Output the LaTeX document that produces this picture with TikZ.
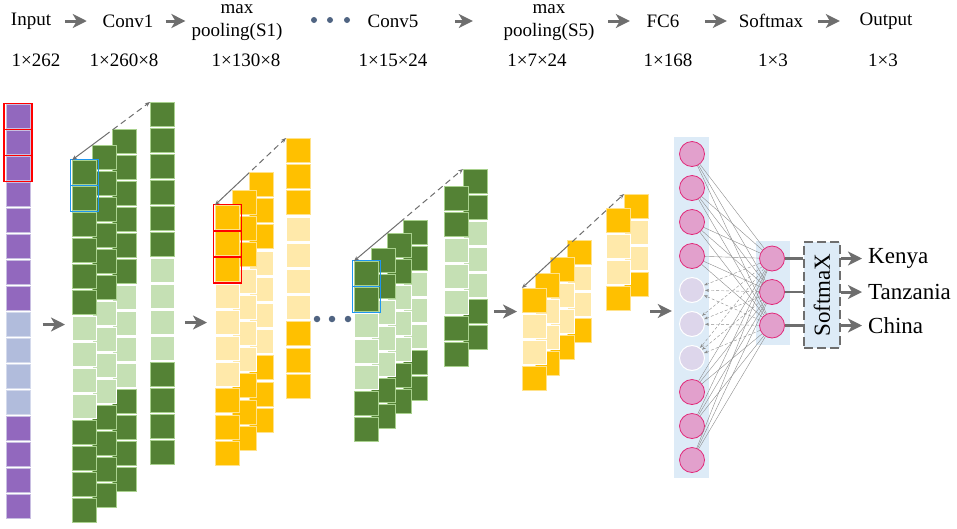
\documentclass[tikz,border=0pt]{standalone}
\usepackage{fontspec}
\usepackage{graphicx}
\setmainfont{Liberation Serif}
\usepackage{tikz}
\usetikzlibrary{arrows.meta, calc}

\definecolor{purp}{RGB}{146,104,190}
\definecolor{purpB}{RGB}{200,190,225}
\definecolor{slate}{RGB}{177,188,220}
\definecolor{slateB}{RGB}{212,218,236}
\definecolor{grD}{RGB}{84,130,53}
\definecolor{grB}{RGB}{169,209,142}
\definecolor{grL}{RGB}{197,224,180}
\definecolor{ylD}{RGB}{255,192,0}
\definecolor{ylB}{RGB}{255,226,140}
\definecolor{ylL}{RGB}{255,233,170}
\definecolor{fcbg}{RGB}{221,235,247}
\definecolor{pink}{RGB}{226,160,204}
\definecolor{pinkB}{RGB}{225,40,120}
\definecolor{drop}{RGB}{221,214,235}
\definecolor{dotc}{RGB}{80,100,130}
\definecolor{arr}{RGB}{110,110,110}
\definecolor{hlblue}{RGB}{30,150,240}

\tikzset{
	cell/.style={rectangle, minimum width=24pt, minimum height=24pt, inner sep=0pt,
		anchor=north west, line width=1pt},
	pd/.style={cell, fill=purp, draw=purpB},
	pl/.style={cell, fill=slate, draw=slateB},
	gd/.style={cell, fill=grD, draw=grB},
	gl/.style={cell, fill=grL, draw=white},
	yd/.style={cell, fill=ylD, draw=ylB},
	yl/.style={cell, fill=ylL, draw=white},
	redbox/.style={rectangle, draw=red, line width=1.8pt, inner sep=0pt,
		minimum width=28pt, minimum height=26pt},
	bluebox/.style={redbox, draw=hlblue},
	hd/.style={font=\fontsize{19}{23}\selectfont, inner sep=2pt, align=center},
	lbl/.style={font=\fontsize{23}{26}\selectfont, inner sep=2pt},
	hdot/.style={circle, fill=dotc, minimum size=6pt, inner sep=0pt},
	harrow/.style={arr, line width=3pt, -{Stealth[length=14pt, width=14pt, inset=4pt]}},
	barrow/.style={harrow},
	dline/.style={arr, line width=1pt},
	neuron/.style={circle, minimum size=25pt, inner sep=0pt, fill=pink, draw=pinkB, line width=0.8pt},
	dneuron/.style={neuron, fill=drop, draw=white, line width=1pt},
	layerbg/.style={rectangle, fill=fcbg, inner sep=0pt},
	link/.style={black!45, line width=0.4pt},
	dlink/.style={link, dash pattern=on 3pt off 2pt, -{Stealth[length=4pt, width=3pt]}},
	smbox/.style={rectangle, fill=fcbg, draw=arr, line width=1.6pt, dash pattern=on 9pt off 4pt,
		minimum width=36pt, minimum height=106pt, inner sep=0pt, font=\fontsize{23}{26}\selectfont},
	tline/.style={arr, line width=2.5pt}
}

\newcommand{\fmap}[5]{%
	\foreach \s [count=\i from 0] in #5
		\node[\s] (#1-\i) at (#2,{#3+\i*#4}) {};%
}
\newcommand{\depth}[2]{%
	\draw[dline, {Stealth[length=5pt, width=4pt]}-] (#1) -- ($(#1)!0.42!(#2)$);
	\draw[dline, dash pattern=on 6pt off 4pt, -{Stealth[length=5pt, width=4pt]}]
		($(#1)!0.42!(#2)$) -- (#2);%
}

\def\lin{pd,pd,pd,pd,pd,pd,pd,pd,pl,pl,pl,pl,pd,pd,pd,pd}
\def\lcone{gd,gd,gd,gd,gd,gd,gl,gl,gl,gl,gd,gd,gd,gd}
\def\lpone{yd,yd,yd,yl,yl,yl,yl,yd,yd,yd}
\def\lcfive{gd,gd,gl,gl,gl,gd,gd}
\def\lpfive{yd,yl,yl,yd}
\def\lfc{neuron,neuron,neuron,neuron,dneuron,dneuron,dneuron,neuron,neuron,neuron}

\begin{document}
\begin{tikzpicture}[x=1pt, y=-1pt]
	\useasboundingbox (0,0) rectangle (957,528);

	\node[hd] (tin)  at (31,21)  {Input};
	\node[hd] (tc1)  at (128,21) {Conv1};
	\node[hd] (tp1)  at (237,23) {max\\pooling(S1)};
	\node[hd] (tc5)  at (393,21) {Conv5};
	\node[hd] (tp5)  at (549,23) {max\\pooling(S5)};
	\node[hd] (tfc)  at (663,21) {FC6};
	\node[hd] (tsm)  at (771,21) {Softmax};
	\node[hd] (tout) at (886,21) {Output};
	\foreach \x [count=\k] in {314,330,347}
		\node[hdot] (hd\k) at (\x,20) {};

	\draw[harrow, shorten <=12pt, shorten >=13.7pt] (tin.east) -- (tin.east -| tc1.west);
	\draw[harrow, shorten <=10pt, shorten >=4pt] (tc1.east) -- (tc1.east -| tp1.west);
	\draw[harrow, shorten <=34.7pt, shorten >=28.6pt] (tc5.east) -- (tc5.east -| tp5.west);
	\draw[harrow, shorten <=11.6pt, shorten >=14.6pt] (tfc.west -| tp5.east) -- (tfc.west);
	\draw[harrow, shorten <=23.6pt, shorten >=9.8pt] (tfc.east) -- (tfc.east -| tsm.west);
	\draw[harrow, shorten <=12.8pt, shorten >=17.6pt] (tsm.east) -- (tsm.east -| tout.west);

	\node[hd] (din)  at (36,60)  {1×262};
	\node[hd] (dc1)  at (124,60) {1×260×8};
	\node[hd] (dp1)  at (246,60) {1×130×8};
	\node[hd] (dc5)  at (393,60) {1×15×24};
	\node[hd] (dp5)  at (537,60) {1×7×24};
	\node[hd] (dfc)  at (668,60) {1×168};
	\node[hd] (dsm)  at (773,60) {1×3};
	\node[hd] (dout) at (883,60) {1×3};

	\fmap{inp}{5.5}{104}{26}{\lin}
	\foreach \i in {0,1,2}
		\node[redbox] (rin\i) at (inp-\i) {};

	\fmap{c1c}{112}{129}{26}{\lcone}
	\fmap{c1b}{92}{145}{26}{\lcone}
	\fmap{c1a}{72}{160}{26}{\lcone}
	\fmap{c1s}{150}{102}{26}{\lcone}
	\foreach \i in {0,1}
		\node[bluebox, minimum height=26pt] (bc1\i) at (c1a-\i) {};
	\depth{c1a-0.north west}{c1s-0.north west}

	\fmap{p1c}{249}{172}{26.2}{\lpone}
	\fmap{p1b}{232}{190}{26.2}{\lpone}
	\fmap{p1a}{215}{205}{26.2}{\lpone}
	\fmap{p1s}{286}{138}{26.2}{\lpone}
	\foreach \i in {0,1,2}
		\node[redbox, minimum height=26.2pt] (rp1\i) at (p1a-\i) {};
	\depth{p1a-0.north west}{p1s-0.north west}

	\foreach \x [count=\k] in {317,332,348}
		\node[hdot, minimum size=6.5pt] (bd\k) at (\x,319) {};

	\fmap{c5d}{403}{220}{26}{\lcfive}
	\fmap{c5c}{387}{233}{26}{\lcfive}
	\fmap{c5b}{371}{248}{26}{\lcfive}
	\fmap{c5a}{354}{261}{26}{\lcfive}
	\fmap{c5t}{463}{169}{26}{\lcfive}
	\fmap{c5s}{444}{186}{26}{\lcfive}
	\foreach \i in {0,1}
		\node[bluebox, minimum height=26pt] (bc5\i) at (c5a-\i) {};
	\depth{c5a-0.north west}{c5t-0.north west}

	\fmap{p5d}{567}{240}{26}{\lpfive}
	\fmap{p5c}{550}{257}{26}{\lpfive}
	\fmap{p5b}{535}{273}{26}{\lpfive}
	\fmap{p5a}{522}{288}{26}{\lpfive}
	\fmap{p5t}{624}{194}{26}{\lpfive}
	\fmap{p5s}{606}{208}{26}{\lpfive}
	\depth{p5a-0.north west}{p5t-0.north west}

	\node[layerbg, minimum width=35pt, minimum height=341pt] (fc) at (691.5,307.5) {};
	\node[layerbg, minimum width=34pt, minimum height=104pt] (ob) at (773,293) {};
	\foreach \s [count=\i from 0] in \lfc
		\node[\s] (f\i) at (692,{154+\i*34}) {};
	\foreach \j in {0,1,2}
		\node[neuron] (o\j) at (772,{258.5+\j*33.5}) {};

	\foreach \i in {0,1,2,3,7,8,9}
		\foreach \j in {0,1,2}
			\draw[link] (f\i) -- (o\j);
	\foreach \i in {4,5,6}
		\foreach \j in {0,1,2}
			\draw[dlink] (o\j) -- (f\i);

	\node[smbox] (sm) at (822,295) {\rotatebox{90}{SoftmaX}};
	\node[lbl, anchor=west] (kenya) at (866,258.5) {Kenya};
	\node[lbl, anchor=west] (tanz)  at (866,292)   {Tanzania};
	\node[lbl, anchor=west] (china) at (866,325.5) {China};
	\foreach \j in {0,1,2}
		\draw[tline] (o\j) -- (o\j -| sm.west);
	\foreach \t in {kenya,tanz,china}
		\draw[barrow, shorten >=4pt] (\t.west -| sm.east) -- (\t.west);

	\draw[barrow, shorten <=12pt, shorten >=7pt] (inp-8.east) -- (inp-8.east -| c1a-6.west);
	\draw[barrow, shorten <=10pt, shorten >=8pt] (c1s-8.east) -- (c1s-8.east -| p1a-0.west);
	\draw[barrow, shorten <=6pt, shorten >=5pt] (c5t-5.east) -- (c5t-5.east -| p5a-0.west);
	\draw[barrow, shorten >=2pt] ([xshift=-24pt, yshift=-3.5pt]fc.west) -- ([yshift=-3.5pt]fc.west);
\end{tikzpicture}
\end{document}
